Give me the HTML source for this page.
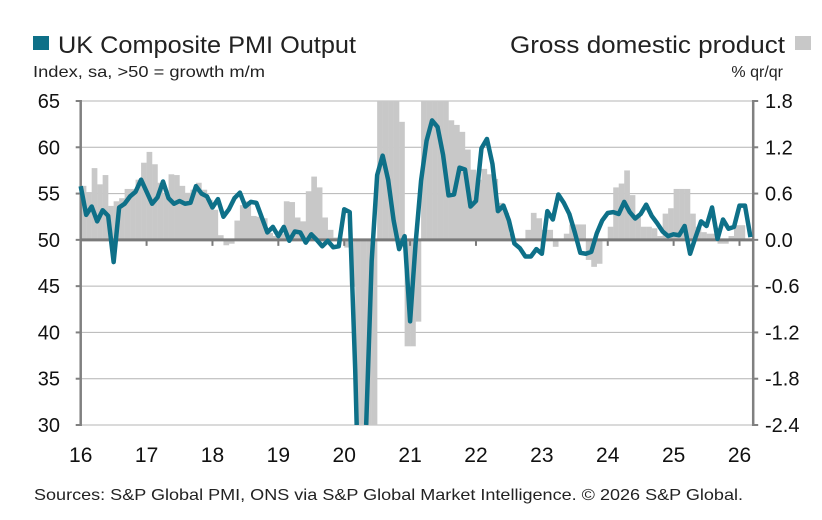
<!DOCTYPE html>
<html><head><meta charset="utf-8"><style>
html,body{margin:0;padding:0;background:#fff;width:822px;height:520px;overflow:hidden;}
svg{display:block;font-family:"Liberation Sans Narrow","Liberation Sans",sans-serif;}
</style></head><body>
<svg id="chart" width="822" height="520" viewBox="0 0 822 520">
<rect x="33" y="36" width="16" height="14" fill="#0e7088"/>
<text x="58" y="53" font-size="24" textLength="298" lengthAdjust="spacingAndGlyphs" fill="#222">UK Composite PMI Output</text>
<text x="33" y="77" font-size="16" textLength="232" lengthAdjust="spacingAndGlyphs" fill="#222">Index, sa, &gt;50 = growth m/m</text>
<text x="510" y="53" font-size="24" textLength="275" lengthAdjust="spacingAndGlyphs" fill="#222">Gross domestic product</text>
<rect x="795" y="36" width="16" height="14" fill="#c8c8c8"/>
<text x="783" y="77" font-size="16" text-anchor="end" fill="#222">% qr/qr</text>
<g id="grid"></g>
<g id="bars"></g>
<g id="axes"></g>
<g id="line"></g>
<g id="labels"></g>
<text x="34" y="500" font-size="16" textLength="709" lengthAdjust="spacingAndGlyphs" fill="#222">Sources: S&amp;P Global PMI, ONS via S&amp;P Global Market Intelligence. © 2026 S&amp;P Global.</text>
</svg>
<script>
const pmiValues = [
55.8,52.7,53.6,52.0,53.2,52.6,47.6,53.5,53.9,54.7,55.2,56.5,
55.2,53.9,54.6,56.3,54.5,53.9,54.2,53.9,54.0,55.8,55.0,54.7,
53.5,54.4,52.5,53.3,54.5,55.1,53.6,54.1,54.0,52.4,50.8,51.4,
50.4,51.4,49.9,50.9,50.8,49.7,50.6,50.0,49.3,49.9,49.2,49.3,
53.3,53.0,36.0,13.8,30.0,47.7,57.0,59.1,56.5,52.1,49.0,50.4,
41.2,49.6,56.4,60.7,62.9,62.2,59.2,54.8,54.9,57.8,57.6,53.6,
54.2,59.9,60.9,58.2,53.1,53.7,52.1,49.6,49.1,48.2,48.2,49.0,
48.5,53.1,52.2,54.9,54.0,52.8,50.8,48.6,48.5,48.7,50.7,52.1,
52.9,53.0,52.8,54.1,53.0,52.3,52.8,53.8,52.6,51.8,50.9,50.4,
50.6,50.5,51.5,48.5,50.3,52.0,51.5,53.5,50.1,52.2,51.2,51.4,
53.7,53.7,50.3];
const gdpValues = [
0.70,0.62,0.93,0.72,0.84,0.44,0.50,0.54,0.66,0.66,0.78,1.00,
1.14,0.98,0.74,0.60,0.85,0.84,0.70,0.61,0.65,0.74,0.65,0.52,
0.39,0.06,-0.07,-0.05,0.25,0.45,0.50,0.31,0.30,0.28,0.09,0.05,
0.08,0.50,0.49,0.29,0.24,0.63,0.82,0.68,0.29,0.13,0.03,0.00,
-0.10,-0.60,-3,-3,-3,-3,3,3,3,3,1.53,-1.38,
-1.38,-1.06,3,3,3,3,3,1.55,1.49,1.40,1.17,0.91,
0.78,0.92,0.85,0.79,0.48,0.35,0.08,0.01,-0.02,0.13,0.35,0.28,
0.13,0.13,-0.09,0.00,0.08,0.20,0.20,0.20,-0.26,-0.35,-0.31,0.00,
0.17,0.68,0.73,0.90,0.58,0.30,0.17,0.17,0.15,0.05,0.34,0.41,
0.66,0.66,0.66,0.34,0.17,0.10,0.08,0.08,-0.05,-0.05,0.05,0.19,
0.19,0.00,0.00];
const leftTicks = [65,60,55,50,45,40,35,30];
const rightTicks = ["1.8","1.2","0.6","0.0","-0.6","-1.2","-1.8","-2.4"];
const yearLabels = ["16","17","18","19","20","21","22","23","24","25","26"];

const NS="http://www.w3.org/2000/svg";
const X0=80.7, XR=753.2, STEP=5.49;
const xPos=i=>X0+i*STEP;
const yL=v=>101+(65-v)*(324/35);
const yR=v=>101+(1.8-Math.max(-2.4,Math.min(1.8,v)))*(324/4.2);
function mk(tag,attrs,parent){const e=document.createElementNS(NS,tag);for(const k in attrs)e.setAttribute(k,attrs[k]);parent.appendChild(e);return e;}
const grid=document.getElementById('grid'),bars=document.getElementById('bars'),axes=document.getElementById('axes'),line=document.getElementById('line'),labels=document.getElementById('labels');

leftTicks.forEach((t,k)=>{
  const y=yL(t);
  if(t!==50){const g=mk('line',{x1:X0,x2:XR,y1:y,y2:y,stroke:'#b4b4b4','stroke-width':1},grid);
  
  }
  const tk=mk('line',{x1:X0-5,x2:X0,y1:y,y2:y,stroke:'#808080','stroke-width':2},axes);
  
  
  const tr=mk('line',{x1:XR,x2:XR+5,y1:y,y2:y,stroke:'#808080','stroke-width':2},axes);
  
  
  const lt=mk('text',{x:60,y:y+7,'font-size':20,'text-anchor':'end',fill:'#111'},labels);
  lt.textContent=t;
  
  
  const rt=mk('text',{x:765,y:yR(1.8-0.6*k)+7,'font-size':20,fill:'#111'},labels);
  rt.textContent=rightTicks[k];
  
  
});

gdpValues.forEach((v,i)=>{
  const y0=yR(0),y1=yR(v);
  const w=Math.min(STEP+0.2,XR-xPos(i));
  const r=mk('rect',{x:xPos(i),y:Math.min(y0,y1),width:w,height:Math.abs(y1-y0),fill:'#c8c8c8'},bars);
  
  
});

const la=mk('line',{x1:X0,x2:X0,y1:100,y2:426,stroke:'#808080','stroke-width':2.5},axes);


const ra=mk('line',{x1:XR,x2:XR,y1:100,y2:426,stroke:'#808080','stroke-width':2.5},axes);


const base=mk('line',{x1:X0,x2:XR,y1:yL(50),y2:yL(50),stroke:'#7a7a7a','stroke-width':3},axes);



yearLabels.forEach((lab,k)=>{
  const x=xPos(k*12);
  if(k>0){const t=mk('line',{x1:x,x2:x,y1:yL(50),y2:yL(50)+6,stroke:'#7a7a7a','stroke-width':2},axes);
  
  }
  const tx=mk('text',{x:x,y:462,'font-size':21,'text-anchor':'middle',fill:'#111'},labels);
  tx.textContent=lab;
  
  
});

// line clipped at the 30 floor
const MIN=30;
let d='', pen=false;
for(let i=0;i<pmiValues.length;i++){
  const v=pmiValues[i];
  if(i>0){
    const p=pmiValues[i-1];
    if((p>=MIN)!==(v>=MIN)){
      const t=(MIN-p)/(v-p);
      const xi=xPos(i-1+t);
      if(p>=MIN){d+=' L'+xi.toFixed(2)+','+yL(MIN).toFixed(2);pen=false;}
      else{d+=' M'+xi.toFixed(2)+','+yL(MIN).toFixed(2);pen=true;}
    }
  }
  if(v>=MIN){d+=(pen?' L':' M')+xPos(i).toFixed(2)+','+yL(v).toFixed(2);pen=true;}
}
const pl=mk('path',{d:d.trim(),fill:'none',stroke:'#0e7088','stroke-width':4.5,'stroke-linejoin':'round','stroke-linecap':'butt'},line);


</script>
</body></html>
